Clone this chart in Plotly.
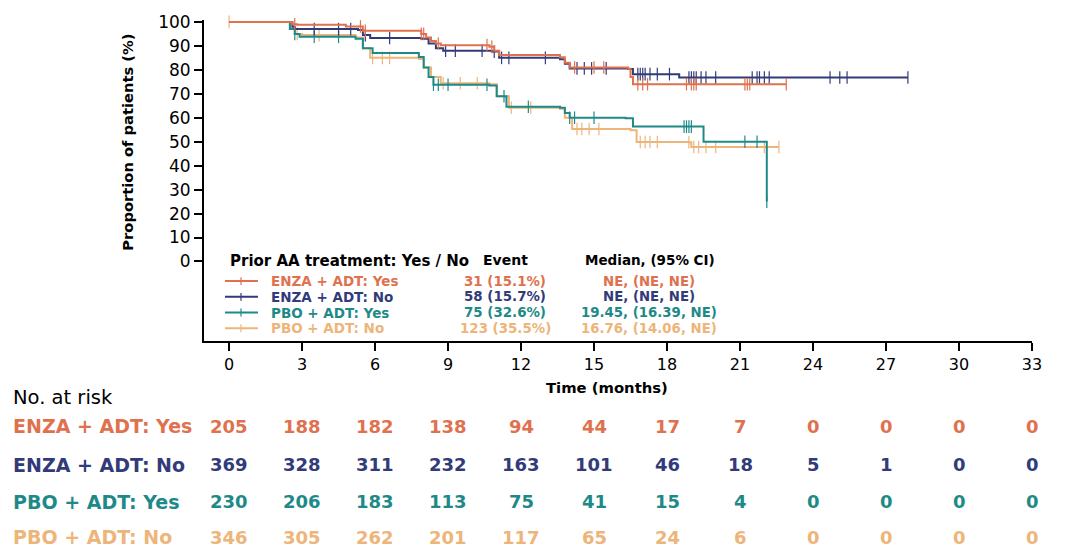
import numpy as np
import plotly.graph_objects as go

# ---------------- data ----------------
x_ticks = list(range(0, 34, 3))
y_ticks = list(range(0, 101, 10))

groups = ["ENZA + ADT: Yes", "ENZA + ADT: No", "PBO + ADT: Yes", "PBO + ADT: No"]
colors = ["#E0714F", "#323B7A", "#1E8A88", "#EDB57A"]

enza_yes_t = [0, 2.6, 2.8, 4.8, 5.5, 7.9, 8.1, 8.3, 8.5, 8.7, 10.7, 10.9, 11.1, 13.6, 13.8, 14.0, 16.4, 16.5, 16.6, 22.9]
enza_yes_s = [100, 99.0, 98.8, 98.1, 96.3, 95.0, 93.5, 92.0, 91.0, 90.3, 89.6, 88.0, 86.2, 85.3, 83.0, 81.0, 80.5, 77.0, 74.0, 74.0]

enza_no_t = [0, 2.6, 2.7, 5.3, 5.5, 5.8, 7.9, 8.2, 8.5, 8.8, 10.8, 11.1, 13.6, 13.8, 14.0, 16.4, 16.6, 18.5, 27.9]
enza_no_s = [100, 98.0, 97.0, 96.6, 94.5, 93.3, 93.0, 91.0, 89.0, 88.0, 87.6, 85.0, 84.4, 82.5, 80.6, 80.3, 78.2, 76.8, 76.8]

pbo_yes_t = [0, 2.5, 2.7, 2.9, 5.2, 5.5, 5.9, 7.8, 8.0, 8.2, 8.4, 10.7, 11.0, 11.4, 13.6, 13.8, 14.0, 16.3, 16.6, 19.4, 19.5, 22.1]
pbo_yes_s = [100, 97.0, 95.0, 93.8, 93.0, 89.0, 87.0, 85.4, 81.0, 77.0, 73.8, 73.5, 69.0, 64.6, 64.2, 62.0, 60.0, 59.8, 56.3, 56.3, 50.0, 25.0]

pbo_no_t = [0, 2.5, 2.7, 3.0, 5.2, 5.5, 5.8, 7.8, 8.0, 8.3, 8.7, 10.7, 11.0, 11.5, 13.6, 13.8, 14.1, 16.5, 16.75, 18.9, 19.0, 22.6]
pbo_no_s = [100, 97.0, 95.0, 94.5, 93.5, 89.0, 85.0, 84.5, 81.0, 77.0, 74.4, 74.0, 69.0, 64.2, 63.8, 60.0, 55.3, 54.8, 49.9, 49.8, 47.8, 47.8]

enza_yes_cens = [2.7, 5.4, 5.6, 7.9, 8.0, 8.6, 10.6, 10.8, 14.2, 15.0, 15.4, 16.8, 17.0, 17.2,
                 18.8, 19.0, 19.1, 19.2, 21.2, 21.3, 21.4, 22.9]
enza_no_cens = [3.5, 4.5, 5.0, 5.6, 6.6, 8.9, 9.3, 10.4, 10.9, 11.2, 11.5, 13.0, 14.3, 14.6, 14.9,
                15.5, 16.8, 16.9, 17.0, 17.1, 17.3, 17.6, 18.1, 18.9, 19.0, 19.1, 19.2, 19.4,
                19.6, 20.0, 21.5, 21.7, 21.8, 22.0, 22.2, 24.7, 25.1, 25.4, 27.9]
pbo_yes_cens = [2.7, 3.5, 4.5, 8.4, 8.6, 9.0, 10.6, 11.3, 12.3, 14.0, 14.2, 15.0, 18.7, 18.8,
                18.9, 19.0, 21.2, 21.7, 22.1]
pbo_no_cens = [0, 2.8, 3.7, 5.9, 6.3, 6.6, 8.8, 9.5, 10.2, 11.6, 12.4, 14.3, 14.5, 14.8, 15.2,
               16.9, 17.1, 17.3, 17.6, 18.9, 19.1, 19.3, 19.6, 20.0, 22.0, 22.6]

events = ["31 (15.1%)", "58 (15.7%)", "75 (32.6%)", "123 (35.5%)"]
medians = ["NE, (NE, NE)", "NE, (NE, NE)", "19.45, (16.39, NE)", "16.76, (14.06, NE)"]

risk_enza_yes = [205, 188, 182, 138, 94, 44, 17, 7, 0, 0, 0, 0]
risk_enza_no = [369, 328, 311, 232, 163, 101, 46, 18, 5, 1, 0, 0]
risk_pbo_yes = [230, 206, 183, 113, 75, 41, 15, 4, 0, 0, 0, 0]
risk_pbo_no = [346, 305, 262, 201, 117, 65, 24, 6, 0, 0, 0, 0]

curves = [
    (enza_yes_t, enza_yes_s, enza_yes_cens),
    (enza_no_t, enza_no_s, enza_no_cens),
    (pbo_yes_t, pbo_yes_s, pbo_yes_cens),
    (pbo_no_t, pbo_no_s, pbo_no_cens),
]
risks = [risk_enza_yes, risk_enza_no, risk_pbo_yes, risk_pbo_no]

# ---------------- geometry ----------------
W, H = 1065, 556
L, R, T, B = 204, 33, 14, 215
PW = W - L - R
PH = H - T - B
FONT = "DejaVu Sans, Liberation Sans, Arial, sans-serif"


def px_x(p):
    return (p - L) / PW


def px_y(p):
    return (H - B - p) / PH


def step_value(ts, ss, c):
    idx = np.searchsorted(np.asarray(ts), c, side="right") - 1
    return ss[max(idx, 0)]


fig = go.Figure()

for i in [3, 2, 1, 0]:
    ts, ss, cens = curves[i]
    fig.add_trace(go.Scatter(
        x=ts, y=ss, mode="lines", line=dict(color=colors[i], width=2, shape="hv"),
        showlegend=False, hoverinfo="skip"))
    cy = [step_value(ts, ss, c) for c in cens]
    fig.add_trace(go.Scatter(
        x=cens, y=cy, mode="markers",
        marker=dict(symbol="line-ns", size=9, line=dict(color=colors[i], width=1.2)),
        showlegend=False, hoverinfo="skip", cliponaxis=False))

annotations = []
shapes = []

# axis titles
annotations.append(dict(text="<b>Proportion of patients (%)</b>", xref="paper", yref="paper",
                        x=px_x(128), y=px_y(139), textangle=-90, showarrow=False,
                        font=dict(size=14.7, color="black", family=FONT),
                        xanchor="center", yanchor="middle"))
annotations.append(dict(text="<b>Time (months)</b>", xref="paper", yref="paper",
                        x=px_x(607), y=px_y(388), showarrow=False,
                        font=dict(size=14.8, color="black", family=FONT),
                        xanchor="center", yanchor="middle"))

# inner legend table
annotations.append(dict(text="<b>Prior AA treatment: Yes / No</b>", xref="paper", yref="paper",
                        x=px_x(228), y=px_y(259), showarrow=False,
                        font=dict(size=15, color="black", family=FONT),
                        xanchor="left", yanchor="middle"))
annotations.append(dict(text="<b>Event</b>", xref="paper", yref="paper",
                        x=px_x(505), y=px_y(258), showarrow=False,
                        font=dict(size=14, color="black", family=FONT),
                        xanchor="center", yanchor="middle"))
annotations.append(dict(text="<b>Median, (95% CI)</b>", xref="paper", yref="paper",
                        x=px_x(650), y=px_y(258), showarrow=False,
                        font=dict(size=13.5, color="black", family=FONT),
                        xanchor="center", yanchor="middle"))
row_y = [280, 296, 312, 328]
for i, g in enumerate(groups):
    yy = px_y(row_y[i])
    annotations.append(dict(text=f"<b>{g}</b>", xref="paper", yref="paper",
                            x=px_x(269), y=yy, showarrow=False,
                            font=dict(size=13.5, color=colors[i], family=FONT),
                            xanchor="left", yanchor="middle"))
    annotations.append(dict(text=f"<b>{events[i]}</b>", xref="paper", yref="paper",
                            x=px_x(505), y=yy, showarrow=False,
                            font=dict(size=13.4, color=colors[i], family=FONT),
                            xanchor="center", yanchor="middle"))
    annotations.append(dict(text=f"<b>{medians[i]}</b>", xref="paper", yref="paper",
                            x=px_x(649), y=yy, showarrow=False,
                            font=dict(size=13.3, color=colors[i], family=FONT),
                            xanchor="center", yanchor="middle"))
    shapes.append(dict(type="line", xref="paper", yref="paper",
                       x0=px_x(225), x1=px_x(258), y0=yy, y1=yy,
                       line=dict(color=colors[i], width=2)))
    shapes.append(dict(type="line", xref="paper", yref="paper",
                       x0=px_x(241), x1=px_x(241), y0=px_y(row_y[i] - 4), y1=px_y(row_y[i] + 4),
                       line=dict(color=colors[i], width=1.2)))

# risk table
annotations.append(dict(text="No. at risk", xref="paper", yref="paper",
                        x=px_x(11), y=px_y(399), showarrow=False,
                        font=dict(size=19.5, color="black", family=FONT),
                        xanchor="left", yanchor="middle"))
risk_y = [428, 467, 505, 541]
for i, g in enumerate(groups):
    yy = px_y(risk_y[i])
    annotations.append(dict(text=f"<b>{g}</b>", xref="paper", yref="paper",
                            x=px_x(11), y=yy, showarrow=False,
                            font=dict(size=19, color=colors[i], family=FONT),
                            xanchor="left", yanchor="middle"))
    for t, n in zip(x_ticks, risks[i]):
        annotations.append(dict(text=f"<b>{n}</b>", xref="x", yref="paper",
                                x=t, y=yy, showarrow=False,
                                font=dict(size=18, color=colors[i], family=FONT),
                                xanchor="center", yanchor="middle"))

fig.update_layout(
    width=W, height=H,
    margin=dict(l=L, r=R, t=T, b=B, pad=0),
    plot_bgcolor="white", paper_bgcolor="white",
    font=dict(family=FONT, color="black"),
    xaxis=dict(range=[-1.03, 33], tickvals=x_ticks, ticktext=[str(v) for v in x_ticks],
               showline=True, linecolor="black", linewidth=2, ticks="outside",
               ticklen=8, tickwidth=2, tickcolor="black", showgrid=False, zeroline=False,
               tickfont=dict(size=16, family=FONT, color="black")),
    yaxis=dict(range=[-33.2, 100.8], tickvals=y_ticks, ticktext=[str(v) for v in y_ticks],
               showline=True, linecolor="black", linewidth=2, ticks="outside",
               ticklen=8, tickwidth=2, tickcolor="black", showgrid=False, zeroline=False,
               tickfont=dict(size=17, family=FONT, color="black")),
    annotations=annotations,
    shapes=shapes,
    showlegend=False,
)

fig.write_html("out.html")
